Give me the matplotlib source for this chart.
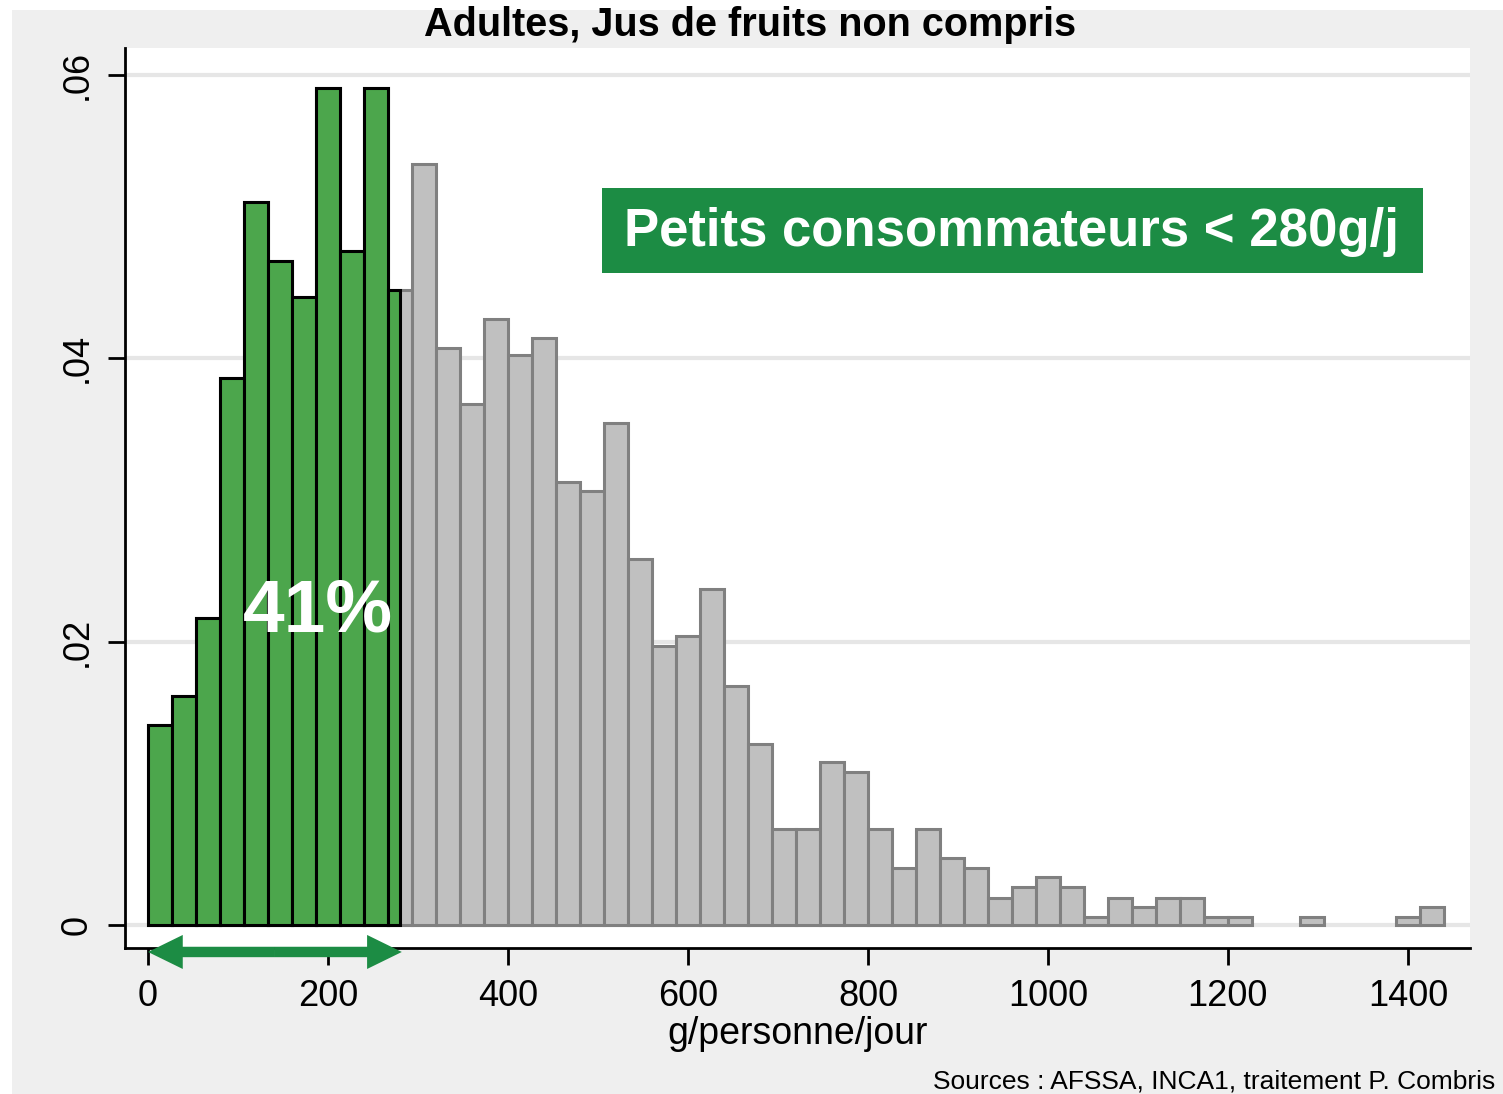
import numpy as np
import matplotlib
matplotlib.use('Agg')
import matplotlib.pyplot as plt
from matplotlib.patches import Rectangle

plt.rcParams['font.family'] = ['Liberation Sans', 'DejaVu Sans']

# densities, 54 bins from 0 to 1440 g
density = [0.0141, 0.0162, 0.0217, 0.0386, 0.0510, 0.0469, 0.0443, 0.0591, 0.0476, 0.0591,
           0.0448, 0.0537, 0.0407, 0.0368, 0.0428, 0.0402, 0.0414, 0.0313, 0.0306, 0.0354,
           0.0258, 0.0197, 0.0204, 0.0237, 0.0169, 0.0128, 0.0068, 0.0068, 0.0115, 0.0108,
           0.0068, 0.0040, 0.0068, 0.0047, 0.0040, 0.0019, 0.0027, 0.0034, 0.0027, 0.0006,
           0.0019, 0.0013, 0.0019, 0.0019, 0.0006, 0.0006, 0.0, 0.0, 0.0006, 0.0,
           0.0, 0.0, 0.0006, 0.0013]
x_min, x_max, n_bins = 0, 1440, 54
cutoff = 280
x_ticks = [0, 200, 400, 600, 800, 1000, 1200, 1400]
y_ticks = [0, 0.02, 0.04, 0.06]
y_tick_labels = ['0', '.02', '.04', '.06']

title = 'Adultes, Jus de fruits non compris'
x_label = 'g/personne/jour'
box_text = 'Petits consommateurs < 280g/j'
share_text = '41%'
source_text = 'Sources : AFSSA, INCA1, traitement P. Combris'

GREEN = '#4ca64c'
DARK_GREEN = '#1c8c44'
GRAY = '#c0c0c0'
GRAY_EDGE = '#808080'
BG = '#efefef'


def draw_histogram(ax, edges, values):
    values = np.array(values)
    left = edges[:-1]
    width = edges[1:] - edges[:-1]
    keep = values > 0
    ax.bar(left[keep], values[keep], width=width[keep], align='edge',
           color=GRAY, edgecolor=GRAY_EDGE, linewidth=2.2, zorder=2)

    # low consumers part, truncated at the cutoff
    green_width = np.minimum(edges[1:], cutoff) - left
    low = green_width > 0
    ax.bar(left[low], values[low], width=green_width[low], align='edge',
           color=GREEN, edgecolor='black', linewidth=2.2, zorder=3)


def style_axes(ax):
    ax.set_facecolor('white')
    ax.set_xlim(-25.6, 1469)
    ax.set_ylim(-0.00162, 0.0619)
    ax.set_xticks(x_ticks)
    ax.set_xticklabels([str(t) for t in x_ticks], fontsize=26)
    ax.set_yticks(y_ticks)
    ax.set_yticklabels(y_tick_labels, fontsize=26, rotation=90, va='center')
    ax.tick_params(axis='both', direction='out', length=12, width=2, pad=10)
    ax.grid(axis='y', color='#e6e6e6', linewidth=3, zorder=0)
    ax.set_axisbelow(True)
    for side in ['top', 'right']:
        ax.spines[side].set_visible(False)
    for side in ['left', 'bottom']:
        ax.spines[side].set_linewidth(2)
    ax.set_xlabel(x_label, fontsize=27, labelpad=2)


def add_annotations(fig, ax):
    ax.add_patch(Rectangle((504, 0.0460), 913, 0.0060, facecolor=DARK_GREEN,
                           edgecolor='none', zorder=4))
    ax.text(960, 0.0489, box_text, fontsize=38, fontweight='bold', color='white',
            ha='center', va='center', zorder=5)
    ax.text(189, 0.0221, share_text, fontsize=54, fontweight='bold', color='white',
            ha='center', va='center', zorder=5)
    # double arrow under the low consumers range
    mid = cutoff / 2
    for end in [0, cutoff + 2]:
        ax.annotate('', xy=(end, -0.0019), xytext=(mid, -0.0019), annotation_clip=False,
                    arrowprops=dict(arrowstyle='simple,head_length=2.5,head_width=2.45,tail_width=0.75',
                                    mutation_scale=10, lw=0, color=DARK_GREEN,
                                    shrinkA=0, shrinkB=0), zorder=6)
    fig.text(933 / 1503, 1 - 1081 / 1094, source_text, fontsize=19, ha='left', va='center')


if __name__ == '__main__':
    fig = plt.figure(figsize=(15.03, 10.94), dpi=100, facecolor='white')
    fig.patches.append(Rectangle((12 / 1503, 0), 1 - 12 / 1503, 1 - 10 / 1094,
                                 transform=fig.transFigure, facecolor=BG,
                                 edgecolor='none', zorder=-10))
    ax = fig.add_axes([125 / 1503, 1 - 948 / 1094, (1470 - 125) / 1503, (948 - 48) / 1094])

    edges = np.linspace(x_min, x_max, n_bins + 1)
    draw_histogram(ax, edges, density)
    style_axes(ax)
    add_annotations(fig, ax)

    fig.text(750 / 1503, 1 - 25 / 1094, title, fontsize=28.5, fontweight='bold',
             family=['Liberation Sans Narrow', 'Liberation Sans', 'DejaVu Sans'],
             ha='center', va='center')

    fig.savefig('out.png', dpi=100, facecolor=fig.get_facecolor())
